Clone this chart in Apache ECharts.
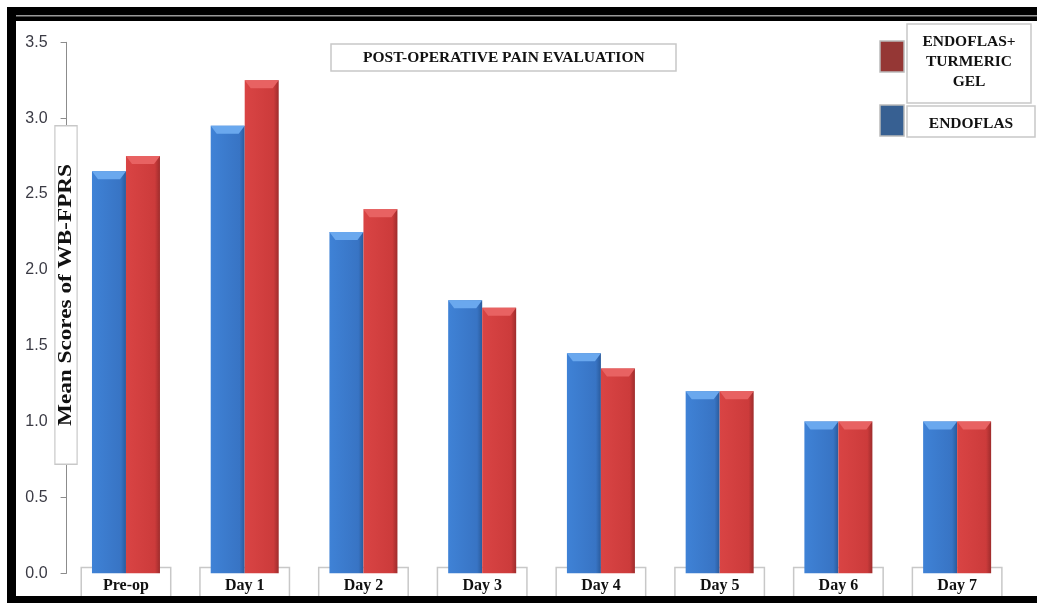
<!DOCTYPE html>
<html>
<head>
<meta charset="utf-8">
<script src="https://cdn.jsdelivr.net/npm/echarts@6/dist/echarts.min.js"></script>
<style>
  html, body { margin: 0; padding: 0; background: #fff; }
  #main { width: 1037px; height: 603px; }
</style>
</head>
<body>
<div id="main"></div>
<script>
var categories = ['Pre-op', 'Day 1', 'Day 2', 'Day 3', 'Day 4', 'Day 5', 'Day 6', 'Day 7'];
var endoflas = [2.65, 2.95, 2.25, 1.8, 1.45, 1.2, 1.0, 1.0];
var endoflasTurmeric = [2.75, 3.25, 2.4, 1.75, 1.35, 1.2, 1.0, 1.0];
var yTicks = [0, 0.5, 1.0, 1.5, 2.0, 2.5, 3.0, 3.5];

var chartDom = document.getElementById('main');
var myChart = echarts.init(chartDom);
var option;

var serif = '"Liberation Serif", "Times New Roman", serif';
var boxBorder = '#c8c8c8';
var barW = 34;

function grad(light, mid, dark) {
  return new echarts.graphic.LinearGradient(0, 0, 1, 0, [
    { offset: 0, color: light },
    { offset: 0.85, color: mid },
    { offset: 1, color: dark }
  ]);
}

// bevel on top of each bar
function bevel(side, color) {
  return function (params, api) {
    var top = api.coord([api.value(0), api.value(1)]);
    var l = side < 0 ? top[0] - barW : top[0];
    var r = l + barW;
    var t = top[1];
    return {
      type: 'polygon',
      shape: { points: [[l, t], [r, t], [r - 6, t + 8], [l + 6, t + 8]] },
      style: { fill: color }
    };
  };
}

function boxText(text, x, y, extra) {
  var s = {
    text: text,
    align: 'center',
    verticalAlign: 'middle',
    font: 'bold 15.5px ' + serif,
    fill: '#111',
    lineHeight: 20
  };
  for (var k in extra) s[k] = extra[k];
  return { type: 'text', x: x, y: y, z: 60, style: s };
}

option = {
  backgroundColor: '#fff',
  title: {
    text: 'POST-OPERATIVE PAIN EVALUATION',
    left: 331,
    top: 44,
    padding: [6, 32, 5, 32],
    borderColor: boxBorder,
    borderWidth: 1.5,
    textStyle: { fontFamily: serif, fontWeight: 'bold', fontSize: 15.5, color: '#111' }
  },
  grid: { left: 66.6, right: 20.5, top: 42.3, bottom: 29.7 },
  xAxis: {
    type: 'category',
    data: categories,
    axisLine: { show: false },
    axisTick: { show: false },
    axisLabel: {
      margin: -5,
      interval: 0,
      fontFamily: serif,
      fontWeight: 'bold',
      fontSize: 16,
      color: '#111',
      backgroundColor: '#fff',
      borderColor: boxBorder,
      borderWidth: 1.5,
      width: 84,
      align: 'center',
      lineHeight: 22,
      padding: [7, 2, 0, 2]
    }
  },
  yAxis: {
    type: 'value',
    min: 0,
    max: 3.5,
    interval: 0.5,
    axisLine: { show: true, lineStyle: { color: '#8c8c8c', width: 1 } },
    axisTick: { show: true, length: 6, lineStyle: { color: '#8c8c8c' } },
    splitLine: { show: false },
    axisLabel: {
      margin: 19,
      fontFamily: '"Liberation Sans", Arial, sans-serif',
      fontSize: 16,
      color: '#3a3a44',
      formatter: function (v) { return v.toFixed(1); }
    }
  },
  graphic: [
    // frame
    { type: 'rect', shape: { x: 7, y: 7, width: 1030, height: 14 }, style: { fill: '#000' }, z: 100 },
    { type: 'rect', shape: { x: 16, y: 15, width: 1021, height: 1.5 }, style: { fill: '#999' }, z: 101 },
    { type: 'rect', shape: { x: 7, y: 7, width: 9, height: 596 }, style: { fill: '#000' }, z: 100 },
    { type: 'rect', shape: { x: 7, y: 596, width: 1030, height: 7 }, style: { fill: '#000' }, z: 100 },
    // y axis name
    {
      type: 'text',
      x: 66,
      y: 295,
      rotation: Math.PI / 2,
      scaleX: 1.29,
      z: 50,
      style: {
        text: 'Mean Scores of WB-FPRS',
        align: 'center',
        verticalAlign: 'middle',
        font: 'bold 18px ' + serif,
        fill: '#111',
        backgroundColor: '#fff',
        borderColor: boxBorder,
        borderWidth: 1.2,
        padding: [2, 29, 1, 29]
      }
    },
    // legend
    { type: 'rect', shape: { x: 880, y: 41, width: 24, height: 31 }, style: { fill: '#953735', stroke: '#bbb', lineWidth: 1.5 }, z: 60 },
    { type: 'rect', shape: { x: 907, y: 24, width: 124, height: 79 }, style: { fill: '#fff', stroke: boxBorder, lineWidth: 1.5 }, z: 59 },
    boxText('ENDOFLAS+\nTURMERIC\nGEL', 969, 62),
    { type: 'rect', shape: { x: 880, y: 105, width: 24, height: 31 }, style: { fill: '#376092', stroke: '#bbb', lineWidth: 1.5 }, z: 60 },
    { type: 'rect', shape: { x: 907, y: 106, width: 128, height: 31 }, style: { fill: '#fff', stroke: boxBorder, lineWidth: 1.5 }, z: 59 },
    boxText('ENDOFLAS', 971, 124)
  ],
  series: [
    {
      name: 'ENDOFLAS',
      type: 'bar',
      data: endoflas,
      barWidth: barW,
      barGap: '0%',
      itemStyle: { color: grad('#3f82d6', '#3874c4', '#2a5b9c') }
    },
    {
      name: 'ENDOFLAS+ TURMERIC GEL',
      type: 'bar',
      data: endoflasTurmeric,
      barWidth: barW,
      barGap: '0%',
      itemStyle: { color: grad('#d94444', '#cc3b3b', '#9e2c2c') }
    },
    {
      type: 'custom',
      silent: true,
      z: 5,
      renderItem: bevel(-1, '#6aa8ee'),
      data: endoflas.map(function (v, i) { return [i, v]; })
    },
    {
      type: 'custom',
      silent: true,
      z: 5,
      renderItem: bevel(1, '#e86262'),
      data: endoflasTurmeric.map(function (v, i) { return [i, v]; })
    }
  ]
};

option && myChart.setOption(option);
</script>
</body>
</html>
